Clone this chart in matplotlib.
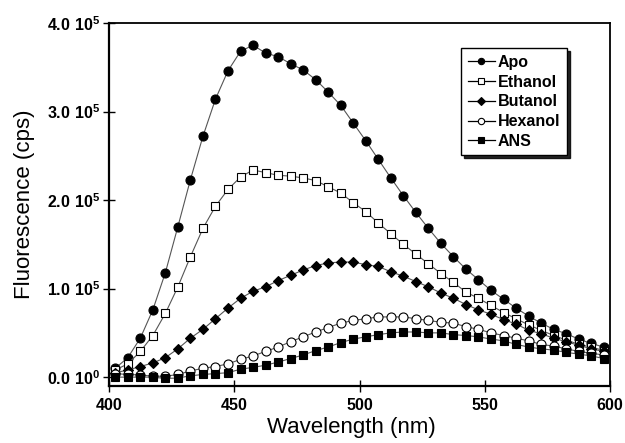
import matplotlib
matplotlib.use("Agg")
import matplotlib.pyplot as plt

# wavelength grid (nm)
wavelength = [402.5, 407.5, 412.5, 417.5, 422.5, 427.5, 432.5, 437.5, 442.5, 447.5,
              452.5, 457.5, 462.5, 467.5, 472.5, 477.5, 482.5, 487.5, 492.5, 497.5,
              502.5, 507.5, 512.5, 517.5, 522.5, 527.5, 532.5, 537.5, 542.5, 547.5,
              552.5, 557.5, 562.5, 567.5, 572.5, 577.5, 582.5, 587.5, 592.5, 597.5]

# fluorescence in units of 1e5 cps
apo = [0.10, 0.22, 0.44, 0.76, 1.18, 1.70, 2.23, 2.72, 3.14, 3.46,
       3.68, 3.75, 3.66, 3.62, 3.54, 3.47, 3.36, 3.22, 3.07, 2.87,
       2.67, 2.46, 2.25, 2.05, 1.86, 1.68, 1.51, 1.36, 1.22, 1.10,
       0.98, 0.88, 0.78, 0.69, 0.61, 0.54, 0.49, 0.43, 0.38, 0.34]
ethanol = [0.08, 0.15, 0.29, 0.47, 0.72, 1.02, 1.36, 1.68, 1.93, 2.12,
           2.26, 2.34, 2.31, 2.28, 2.27, 2.25, 2.22, 2.15, 2.08, 1.97,
           1.87, 1.74, 1.62, 1.50, 1.39, 1.28, 1.17, 1.07, 0.96, 0.89,
           0.81, 0.73, 0.66, 0.59, 0.53, 0.47, 0.42, 0.37, 0.34, 0.30]
butanol = [0.05, 0.08, 0.12, 0.16, 0.22, 0.32, 0.44, 0.54, 0.66, 0.78,
           0.89, 0.97, 1.02, 1.09, 1.15, 1.21, 1.26, 1.29, 1.30, 1.30,
           1.27, 1.25, 1.19, 1.14, 1.08, 1.02, 0.95, 0.89, 0.82, 0.76,
           0.71, 0.65, 0.60, 0.53, 0.49, 0.44, 0.40, 0.36, 0.32, 0.29]
hexanol = [0.04, 0.03, 0.025, 0.01, 0.01, 0.03, 0.07, 0.10, 0.12, 0.15,
           0.20, 0.24, 0.29, 0.34, 0.40, 0.455, 0.51, 0.56, 0.61, 0.64,
           0.66, 0.68, 0.68, 0.68, 0.66, 0.64, 0.62, 0.61, 0.57, 0.54,
           0.50, 0.47, 0.44, 0.41, 0.37, 0.35, 0.32, 0.29, 0.27, 0.25]
ans = [0.00, 0.00, 0.00, 0.00, -0.015, -0.01, 0.015, 0.03, 0.04, 0.05,
       0.09, 0.11, 0.135, 0.17, 0.21, 0.25, 0.30, 0.34, 0.39, 0.43,
       0.455, 0.48, 0.50, 0.51, 0.51, 0.50, 0.50, 0.48, 0.47, 0.455,
       0.43, 0.41, 0.37, 0.34, 0.32, 0.305, 0.28, 0.26, 0.24, 0.21]

x_ticks = [400, 450, 500, 550, 600]
y_ticks = [0, 1e5, 2e5, 3e5, 4e5]
y_tick_labels = [r"$\mathbf{0.0\ 10^{0}}$", r"$\mathbf{1.0\ 10^{5}}$",
                 r"$\mathbf{2.0\ 10^{5}}$", r"$\mathbf{3.0\ 10^{5}}$",
                 r"$\mathbf{4.0\ 10^{5}}$"]

plt.rcParams["font.family"] = ["Liberation Sans", "DejaVu Sans"]
plt.rcParams["mathtext.fontset"] = "custom"
plt.rcParams["mathtext.rm"] = "Liberation Sans"
plt.rcParams["mathtext.bf"] = "Liberation Sans:bold"

fig = plt.figure(figsize=(6.25, 4.43), dpi=100)
ax = fig.add_axes([0.1744, 0.1287, 0.8016, 0.8194])

series = [
    ("Apo", apo, "o", "black"),
    ("Ethanol", ethanol, "s", "white"),
    ("Butanol", butanol, "D", "black"),
    ("Hexanol", hexanol, "o", "white"),
    ("ANS", ans, "s", "black"),
]

for name, vals, marker, face in series:
    ms = 6.5 if marker == "o" else (6.0 if marker == "s" else 5.5)
    ax.plot(wavelength, [v * 1e5 for v in vals], color="#555555", lw=0.8,
            marker=marker, markersize=ms, markerfacecolor=face,
            markeredgecolor="black", markeredgewidth=0.8, label=name)

ax.set_xlim(400, 600)
ax.set_ylim(-10000, 400000)
ax.set_xticks(x_ticks)
ax.set_yticks(y_ticks)
ax.set_yticklabels(y_tick_labels)

for lab in ax.get_xticklabels():
    lab.set_fontweight("bold")
ax.tick_params(axis="both", direction="inout", length=8, width=1.0,
               labelsize=11.5, colors="black")
ax.tick_params(axis="x", pad=5)
ax.tick_params(axis="y", pad=2)

for side in ["left", "bottom"]:
    ax.spines[side].set_linewidth(1.6)
for side in ["top", "right"]:
    ax.spines[side].set_linewidth(1.3)

ax.set_xlabel("Wavelength (nm)", fontsize=16)
ax.set_ylabel("Fluorescence (cps)", fontsize=16)
ax.xaxis.set_label_coords(0.483, -0.085)
ax.yaxis.set_label_coords(-0.148, 0.5)

leg = ax.legend(loc="upper right", bbox_to_anchor=(0.93, 0.952),
                prop={"weight": "bold", "size": 11.5}, markerscale=0.7,
                handlelength=1.7, handletextpad=0.2, labelspacing=0.3,
                borderpad=0.4, fancybox=False, framealpha=1,
                shadow={"color": "black", "alpha": 0.85})
leg.get_frame().set_edgecolor("black")
leg.get_frame().set_linewidth(1.0)
for line in leg.get_lines():
    line.set_color("black")
    line.set_linewidth(0.9)

fig.savefig("out.png", dpi=100)
